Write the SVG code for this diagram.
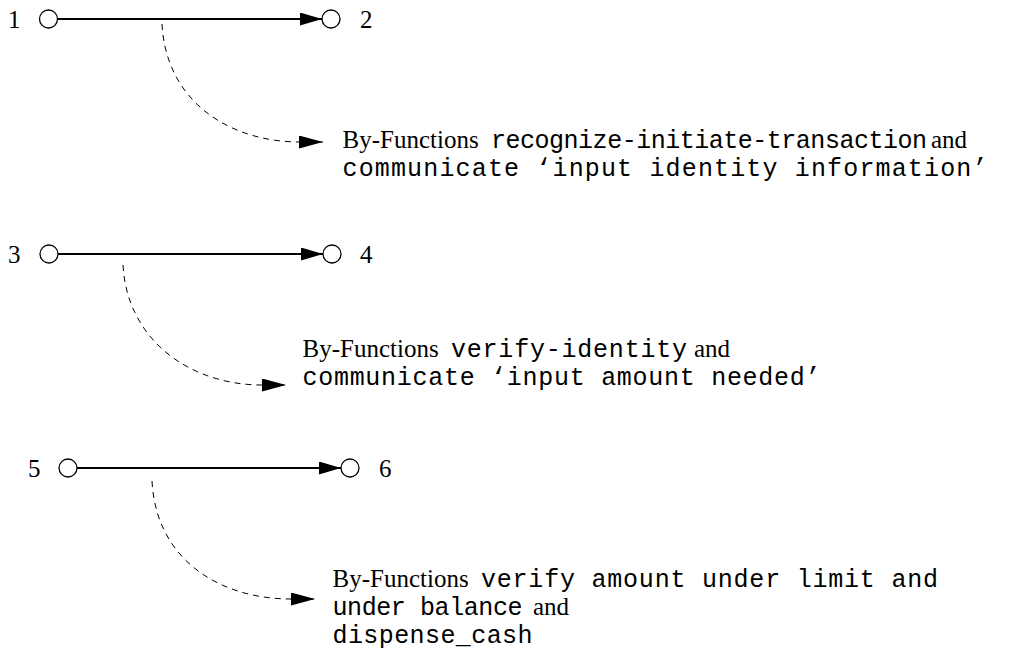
<svg xmlns="http://www.w3.org/2000/svg" width="1009" height="654" viewBox="0 0 1009 654">
<style>
.serif{font-family:"Liberation Serif","Times New Roman",serif;font-size:25px;fill:#000}
.mono{font-family:"Liberation Mono","Courier New",monospace;font-size:25px;fill:#000}
.node{fill:#fff;stroke:#000;stroke-width:1.3}
.edge{fill:none;stroke:#000;stroke-width:2}
.dash{fill:none;stroke:#000;stroke-width:1;stroke-dasharray:6 5}
</style>
<defs>
<marker id="ah" markerUnits="userSpaceOnUse" viewBox="0 0 22 13" refX="22" refY="6.5" markerWidth="22" markerHeight="13" orient="auto">
<path d="M0,0 L22,6.5 L0,13 z" fill="#000"/>
</marker>
<marker id="dh" markerUnits="userSpaceOnUse" viewBox="0 0 24 13" refX="24" refY="6.5" markerWidth="24" markerHeight="13" orient="auto">
<path d="M0,0 L24,6.5 L0,13 z" fill="#000"/>
</marker>
</defs>

<g id="connectors">
<line class="edge" x1="57" y1="19" x2="322" y2="19" marker-end="url(#ah)"/>
<path class="dash" d="M162,24 C166,102 230,142 300,142 L323,142" marker-end="url(#dh)"/>
<line class="edge" x1="58" y1="254" x2="323" y2="254" marker-end="url(#ah)"/>
<path class="dash" d="M123,265 C127,340 190,385 262,385 L286,385" marker-end="url(#dh)"/>
<line class="edge" x1="77" y1="468" x2="341" y2="468" marker-end="url(#ah)"/>
<path class="dash" d="M152,481 C156,560 220,599 291,599 L315,599" marker-end="url(#dh)"/>
</g>

<g id="n1"><circle class="node" cx="48.5" cy="19" r="9"/><text class="serif" x="8" y="28">1</text></g>
<g id="n2"><circle class="node" cx="331" cy="19" r="9"/><text class="serif" x="360" y="28">2</text></g>
<g id="n3"><circle class="node" cx="49" cy="254" r="9"/><text class="serif" x="8" y="263">3</text></g>
<g id="n4"><circle class="node" cx="332" cy="254" r="9"/><text class="serif" x="360" y="263">4</text></g>
<g id="n5"><circle class="node" cx="68" cy="468" r="9"/><text class="serif" x="28" y="477">5</text></g>
<g id="n6"><circle class="node" cx="350" cy="468" r="9"/><text class="serif" x="379" y="477">6</text></g>

<g id="label1">
<text class="serif" x="342.5" y="148">By-Functions</text>
<text class="mono" x="491" y="148" textLength="436" lengthAdjust="spacing">recognize-initiate-transaction</text>
<text class="serif" x="931" y="148">and</text>
<text class="mono" x="342.5" y="176" textLength="645" lengthAdjust="spacing">communicate ‘input identity information’</text>
</g>

<g id="label2">
<text class="serif" x="302.5" y="357">By-Functions</text>
<text class="mono" x="451" y="357" textLength="236" lengthAdjust="spacing">verify-identity</text>
<text class="serif" x="694" y="357">and</text>
<text class="mono" x="302.5" y="385" textLength="518" lengthAdjust="spacing">communicate ‘input amount needed’</text>
</g>

<g id="label3">
<text class="serif" x="332.5" y="587">By-Functions</text>
<text class="mono" x="481" y="587" textLength="457" lengthAdjust="spacing">verify amount under limit and</text>
<text class="mono" x="332.5" y="615" textLength="190" lengthAdjust="spacing">under balance</text>
<text class="serif" x="533" y="615">and</text>
<text class="mono" x="332.5" y="643" textLength="200" lengthAdjust="spacing">dispense_cash</text>
</g>
</svg>
